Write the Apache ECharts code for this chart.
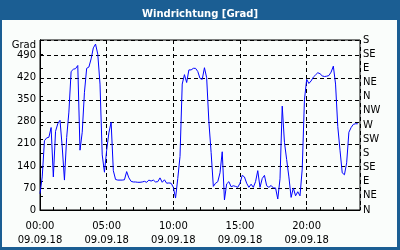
<!DOCTYPE html>
<html>
<head>
<meta charset="utf-8">
<script src="https://cdn.jsdelivr.net/npm/echarts@6/dist/echarts.min.js"></script>
<style>
html,body{margin:0;padding:0;}
#wrap{position:relative;width:400px;height:250px;background:#1b5e93;overflow:hidden;}
#inner{position:absolute;left:2px;top:20px;width:395px;height:227px;background:#fafdfb;}
#chart{position:absolute;left:0;top:0;width:400px;height:250px;}
</style>
</head>
<body>
<div id="wrap"><div id="inner"></div><div id="chart"></div></div>
<script>
// ---- data ----
const chartTitle = 'Windrichtung [Grad]';
const leftAxisName = 'Grad';
const dateLabel = '09.09.18';
const stepMinutes = 10; // one reading every 10 minutes, starting 09.09.18 00:00
const xTickHours = [0, 5, 10, 15, 20];
const xTickLabels = ['00:00', '05:00', '10:00', '15:00', '20:00'];
const leftTicks = [0, 70, 140, 210, 280, 350, 420, 490];
const rightLabels = ['N', 'NE', 'E', 'SE', 'S', 'SW', 'W', 'NW', 'N', 'NE', 'E', 'SE', 'S'];
const windDir = [
  52, 105, 220, 229, 231, 262, 105, 250, 274, 285,
  200, 95, 230, 311, 440, 447, 449, 459, 190, 247,
  374, 450, 454, 480, 515, 527, 495, 400, 175, 120,
  190, 245, 279, 125, 97, 95, 95, 95, 96, 122,
  102, 91, 89, 89, 88, 88, 89, 91, 88, 95,
  92, 95, 89, 90, 102, 88, 96, 85, 86, 85,
  72, 38, 100, 170, 400, 430, 405, 445, 445, 450,
  450, 440, 418, 415, 452, 420, 280, 183, 75, 85,
  90, 118, 185, 32, 83, 90, 74, 77, 75, 72,
  85, 110, 105, 85, 72, 82, 72, 90, 125, 72,
  100, 110, 77, 72, 78, 70, 70, 35, 99, 330,
  215, 160, 105, 40, 70, 45, 58, 45, 130, 350,
  415, 402, 410, 422, 429, 436, 433, 426, 424, 425,
  427, 438, 457, 400, 265, 190, 118, 112, 150, 247,
  262, 272, 274, 274
];

const seriesData = windDir.map((v, i) => [i * stepMinutes / 60, v]);
const font = 'DejaVu Sans';
const dash = [4, 3];

const chart = echarts.init(document.getElementById('chart'), null, {renderer: 'canvas'});
chart.setOption({
  animation: false,
  backgroundColor: 'transparent',
  title: {
    text: chartTitle,
    left: 'center',
    top: 4,
    textStyle: {color: '#ffffff', fontFamily: font, fontWeight: 'bold', fontSize: 10}
  },
  grid: {left: 40, top: 40, right: 40, bottom: 40, show: true, borderColor: '#000', borderWidth: 1, backgroundColor: 'transparent'},
  xAxis: [
    {
      type: 'value', min: 0, max: 24, interval: 5, position: 'bottom',
      axisLine: {show: true, lineStyle: {color: '#000', width: 1}},
      axisTick: {show: false},
      splitLine: {show: true, lineStyle: {color: '#000', type: dash, width: 1}},
      axisLabel: {
        show: true, showMaxLabel: false, margin: 9, color: '#000', fontFamily: font, fontSize: 10, lineHeight: 14,
        formatter: function (v) {
          const i = xTickHours.indexOf(v);
          return i >= 0 ? xTickLabels[i] + '\n' + dateLabel : '';
        }
      }
    },
    {
      type: 'value', min: 0, max: 24, interval: 1, position: 'bottom',
      axisLine: {show: false},
      axisTick: {show: true, inside: true, length: 3, lineStyle: {color: '#000', width: 1}},
      splitLine: {show: false},
      axisLabel: {show: false}
    }
  ],
  yAxis: [
    {
      type: 'value', min: 0, max: 540, interval: 70, position: 'left',
      name: leftAxisName, nameLocation: 'end', nameGap: -6,
      nameTextStyle: {color: '#000', fontFamily: font, fontSize: 10, align: 'right', verticalAlign: 'middle', padding: [0, 4, 0, 0]},
      axisLine: {show: true, lineStyle: {color: '#000', width: 1}},
      axisTick: {show: false},
      splitLine: {show: true, lineStyle: {color: '#000', type: dash, width: 1}},
      axisLabel: {
        show: true, showMaxLabel: false, margin: 4, color: '#000', fontFamily: font, fontSize: 10,
        formatter: function (v) { return leftTicks.indexOf(v) >= 0 ? String(v) : ''; }
      }
    },
    {
      type: 'value', min: 0, max: 540, interval: 45, position: 'right',
      axisLine: {show: true, lineStyle: {color: '#000', width: 1}},
      axisTick: {show: true, inside: false, length: 3, lineStyle: {color: '#000', width: 1}},
      splitLine: {show: false},
      axisLabel: {
        show: true, margin: 3, color: '#000', fontFamily: font, fontSize: 10,
        formatter: function (v) { return rightLabels[Math.round(v / 45)]; }
      }
    }
  ],
  series: [{
    type: 'line', xAxisIndex: 0, yAxisIndex: 0,
    data: seriesData, showSymbol: false, symbol: 'none',
    lineStyle: {color: '#0000ff', width: 1},
    z: 5
  }]
});
</script>
</body>
</html>
